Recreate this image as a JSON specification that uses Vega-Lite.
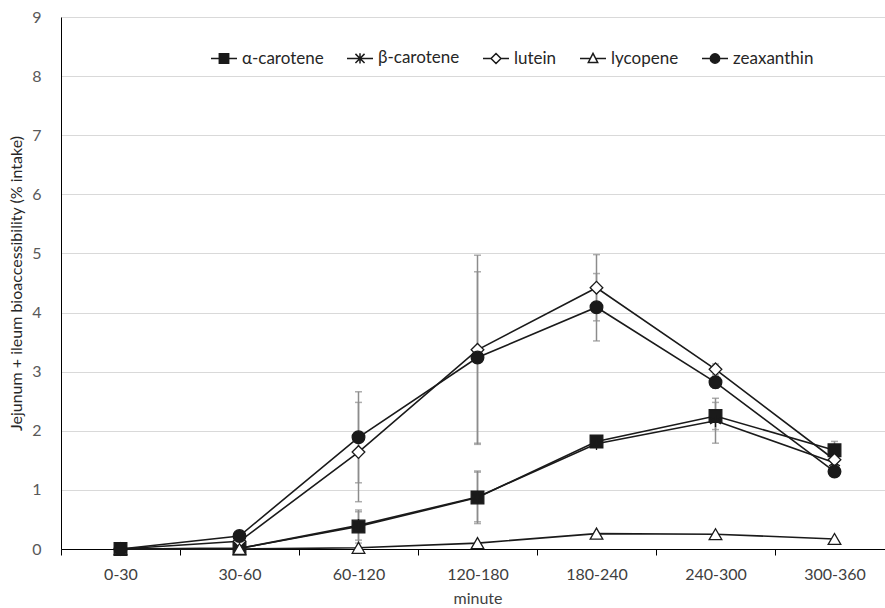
{
  "$schema": "https://vega.github.io/schema/vega-lite/v6.json",
  "width": 824,
  "height": 532,
  "autosize": {"type": "none"},
  "padding": {"left": 61, "top": 17, "right": 0, "bottom": 59},
  "background": "white",
  "config": {
    "view": {"stroke": null},
    "font": "Lato"
  },
  "resolve": {"scale": {"shape": "independent", "fill": "independent"}},
  "datasets": {
    "main": [
      {"series": "α-carotene", "minute": "0-30", "value": 0},
      {"series": "α-carotene", "minute": "30-60", "value": 0.01},
      {"series": "α-carotene", "minute": "60-120", "value": 0.38},
      {"series": "α-carotene", "minute": "120-180", "value": 0.87},
      {"series": "α-carotene", "minute": "180-240", "value": 1.82},
      {"series": "α-carotene", "minute": "240-300", "value": 2.25},
      {"series": "α-carotene", "minute": "300-360", "value": 1.67},
      {"series": "β-carotene", "minute": "0-30", "value": 0},
      {"series": "β-carotene", "minute": "30-60", "value": 0.01},
      {"series": "β-carotene", "minute": "60-120", "value": 0.40},
      {"series": "β-carotene", "minute": "120-180", "value": 0.88},
      {"series": "β-carotene", "minute": "180-240", "value": 1.78},
      {"series": "β-carotene", "minute": "240-300", "value": 2.17},
      {"series": "β-carotene", "minute": "300-360", "value": 1.46},
      {"series": "lutein", "minute": "0-30", "value": 0},
      {"series": "lutein", "minute": "30-60", "value": 0.13},
      {"series": "lutein", "minute": "60-120", "value": 1.64},
      {"series": "lutein", "minute": "120-180", "value": 3.37},
      {"series": "lutein", "minute": "180-240", "value": 4.42},
      {"series": "lutein", "minute": "240-300", "value": 3.04},
      {"series": "lutein", "minute": "300-360", "value": 1.51},
      {"series": "lycopene", "minute": "0-30", "value": 0},
      {"series": "lycopene", "minute": "30-60", "value": 0},
      {"series": "lycopene", "minute": "60-120", "value": 0.02},
      {"series": "lycopene", "minute": "120-180", "value": 0.10},
      {"series": "lycopene", "minute": "180-240", "value": 0.26},
      {"series": "lycopene", "minute": "240-300", "value": 0.25},
      {"series": "lycopene", "minute": "300-360", "value": 0.17},
      {"series": "zeaxanthin", "minute": "0-30", "value": 0},
      {"series": "zeaxanthin", "minute": "30-60", "value": 0.22},
      {"series": "zeaxanthin", "minute": "60-120", "value": 1.89},
      {"series": "zeaxanthin", "minute": "120-180", "value": 3.24},
      {"series": "zeaxanthin", "minute": "180-240", "value": 4.09},
      {"series": "zeaxanthin", "minute": "240-300", "value": 2.82},
      {"series": "zeaxanthin", "minute": "300-360", "value": 1.31}
    ],
    "errs": [
      {"series": "α-carotene", "minute": "60-120", "lo": 0.10, "hi": 0.66},
      {"series": "β-carotene", "minute": "60-120", "lo": 0.15, "hi": 0.63},
      {"series": "lutein", "minute": "60-120", "lo": 0.80, "hi": 2.48},
      {"series": "zeaxanthin", "minute": "60-120", "lo": 1.12, "hi": 2.66},
      {"series": "α-carotene", "minute": "120-180", "lo": 0.43, "hi": 1.32},
      {"series": "β-carotene", "minute": "120-180", "lo": 0.46, "hi": 1.30},
      {"series": "lutein", "minute": "120-180", "lo": 1.77, "hi": 4.97},
      {"series": "zeaxanthin", "minute": "120-180", "lo": 1.79, "hi": 4.69},
      {"series": "α-carotene", "minute": "180-240", "lo": 1.75, "hi": 1.89},
      {"series": "β-carotene", "minute": "180-240", "lo": 1.72, "hi": 1.84},
      {"series": "lutein", "minute": "180-240", "lo": 3.86, "hi": 4.98},
      {"series": "zeaxanthin", "minute": "180-240", "lo": 3.52, "hi": 4.66},
      {"series": "α-carotene", "minute": "240-300", "lo": 2.02, "hi": 2.48},
      {"series": "β-carotene", "minute": "240-300", "lo": 1.79, "hi": 2.55},
      {"series": "lutein", "minute": "240-300", "lo": 2.95, "hi": 3.13},
      {"series": "zeaxanthin", "minute": "240-300", "lo": 2.72, "hi": 2.92},
      {"series": "α-carotene", "minute": "300-360", "lo": 1.52, "hi": 1.82},
      {"series": "β-carotene", "minute": "300-360", "lo": 1.38, "hi": 1.54},
      {"series": "lutein", "minute": "300-360", "lo": 1.45, "hi": 1.57},
      {"series": "zeaxanthin", "minute": "300-360", "lo": 1.25, "hi": 1.37}
    ]
  },
  "encoding": {
    "x": {
      "field": "minute",
      "type": "ordinal",
      "sort": ["0-30", "30-60", "60-120", "120-180", "180-240", "240-300", "300-360"],
      "scale": {"type": "band", "range": [0, 833], "paddingInner": 0, "paddingOuter": 0},
      "axis": {
        "title": "minute",
        "titleFont": "Lato",
        "titleFontSize": 16,
        "titleFontWeight": "normal",
        "titleColor": "#404040",
        "titlePadding": 8,
        "labelAngle": 0,
        "labelFont": "Lato",
        "labelFontSize": 16,
        "labelColor": "#404040",
        "labelPadding": 11,
        "domainColor": "#000000",
        "domainWidth": 1,
        "ticks": true,
        "tickBand": "extent",
        "tickColor": "#000000",
        "tickSize": 6,
        "grid": false
      }
    }
  },
  "layer": [
    {
      "data": {"name": "errs"},
      "mark": {"type": "rule", "color": "#8c8c8c", "strokeWidth": 1.5},
      "encoding": {
        "y": {"field": "lo", "type": "quantitative", "scale": {"domain": [0, 9], "nice": false, "zero": true}},
        "y2": {"field": "hi"}
      }
    },
    {
      "data": {"name": "errs"},
      "mark": {"type": "tick", "color": "#8c8c8c", "size": 7, "thickness": 1.5, "orient": "horizontal"},
      "encoding": {
        "y": {"field": "lo", "type": "quantitative"}
      }
    },
    {
      "data": {"name": "errs"},
      "mark": {"type": "tick", "color": "#8c8c8c", "size": 7, "thickness": 1.5, "orient": "horizontal"},
      "encoding": {
        "y": {"field": "hi", "type": "quantitative"}
      }
    },
    {
      "data": {"name": "main"},
      "mark": {"type": "line", "color": "#1a1a1a", "strokeWidth": 1.6},
      "encoding": {
        "detail": {"field": "series", "type": "nominal"},
        "y": {
          "field": "value",
          "type": "quantitative",
          "scale": {"domain": [0, 9], "nice": false},
          "axis": {
            "title": "Jejunum + ileum bioaccessibility (% intake)",
            "titleFont": "Lato",
            "titleFontSize": 16,
            "titleFontWeight": "normal",
            "titleColor": "#262626",
            "titlePadding": 7,
            "values": [0, 1, 2, 3, 4, 5, 6, 7, 8, 9],
            "format": "d",
            "labelFont": "Lato",
            "labelFontSize": 16,
            "labelColor": "#595959",
            "labelPadding": 20,
            "ticks": false,
            "domainColor": "#000000",
            "domainWidth": 1,
            "gridColor": "#d9d9d9",
            "gridWidth": 1
          }
        }
      }
    },
    {
      "data": {"name": "main"},
      "mark": {"type": "point", "filled": false, "stroke": "#1a1a1a", "strokeWidth": 1.3, "opacity": 1, "size": 160},
      "encoding": {
        "y": {"field": "value", "type": "quantitative"},
        "shape": {
          "field": "series",
          "type": "nominal",
          "scale": {
            "domain": ["α-carotene", "β-carotene", "lutein", "lycopene", "zeaxanthin"],
            "range": ["square", "M0,-1V1M-0.87,-0.5L0.87,0.5M-0.87,0.5L0.87,-0.5", "diamond", "triangle-up", "circle"]
          },
          "legend": null
        },
        "fill": {
          "condition": {"test": "datum.series === 'α-carotene' || datum.series === 'zeaxanthin'", "value": "#1a1a1a"},
          "value": "#ffffff"
        }
      }
    },
    {
      "data": {"name": "main"},
      "transform": [{"filter": "datum.value < -100"}],
      "mark": {"type": "point", "filled": false, "stroke": "#1a1a1a", "strokeWidth": 1.5, "opacity": 1, "size": 676},
      "encoding": {
        "y": {"field": "value", "type": "quantitative"},
        "shape": {
          "field": "series",
          "type": "nominal",
          "scale": {
            "domain": ["α-carotene", "β-carotene", "lutein", "lycopene", "zeaxanthin"],
            "range": [
              "M-1,0H1M-0.36,-0.36H0.36V0.36H-0.36Z",
              "M-1,0H1M0,-0.4V0.4M-0.35,-0.35L0.35,0.35M-0.35,0.35L0.35,-0.35",
              "M-1,0H-0.38M0.38,0H1M0,-0.38L0.38,0L0,0.38L-0.38,0Z",
              "M-1,0H-0.2M0.2,0H1M0,-0.4L0.36,0.3L-0.36,0.3Z",
              "M-1,0H1M-0.36,0A0.36,0.36 0 1,0 0.36,0A0.36,0.36 0 1,0 -0.36,0Z"
            ]
          },
          "legend": {
            "title": null,
            "orient": "none",
            "direction": "horizontal",
            "legendX": 149,
            "legendY": 27,
            "columns": 5,
            "symbolSize": 676,
            "symbolStrokeWidth": 1.5,
            "labelFont": "Lato",
            "labelFontSize": 17,
            "labelColor": "#262626",
            "labelOffset": 4,
            "columnPadding": 20
          }
        },
        "fill": {
          "field": "series",
          "type": "nominal",
          "scale": {
            "domain": ["α-carotene", "β-carotene", "lutein", "lycopene", "zeaxanthin"],
            "range": ["#1a1a1a", "#ffffff", "#ffffff", "#ffffff", "#1a1a1a"]
          },
          "legend": {
            "title": null,
            "orient": "none",
            "direction": "horizontal",
            "legendX": 149,
            "legendY": 27,
            "columns": 5,
            "symbolSize": 676,
            "symbolStrokeWidth": 1.5,
            "labelFont": "Lato",
            "labelFontSize": 17,
            "labelColor": "#262626",
            "labelOffset": 4,
            "columnPadding": 20
          }
        }
      }
    }
  ]
}
